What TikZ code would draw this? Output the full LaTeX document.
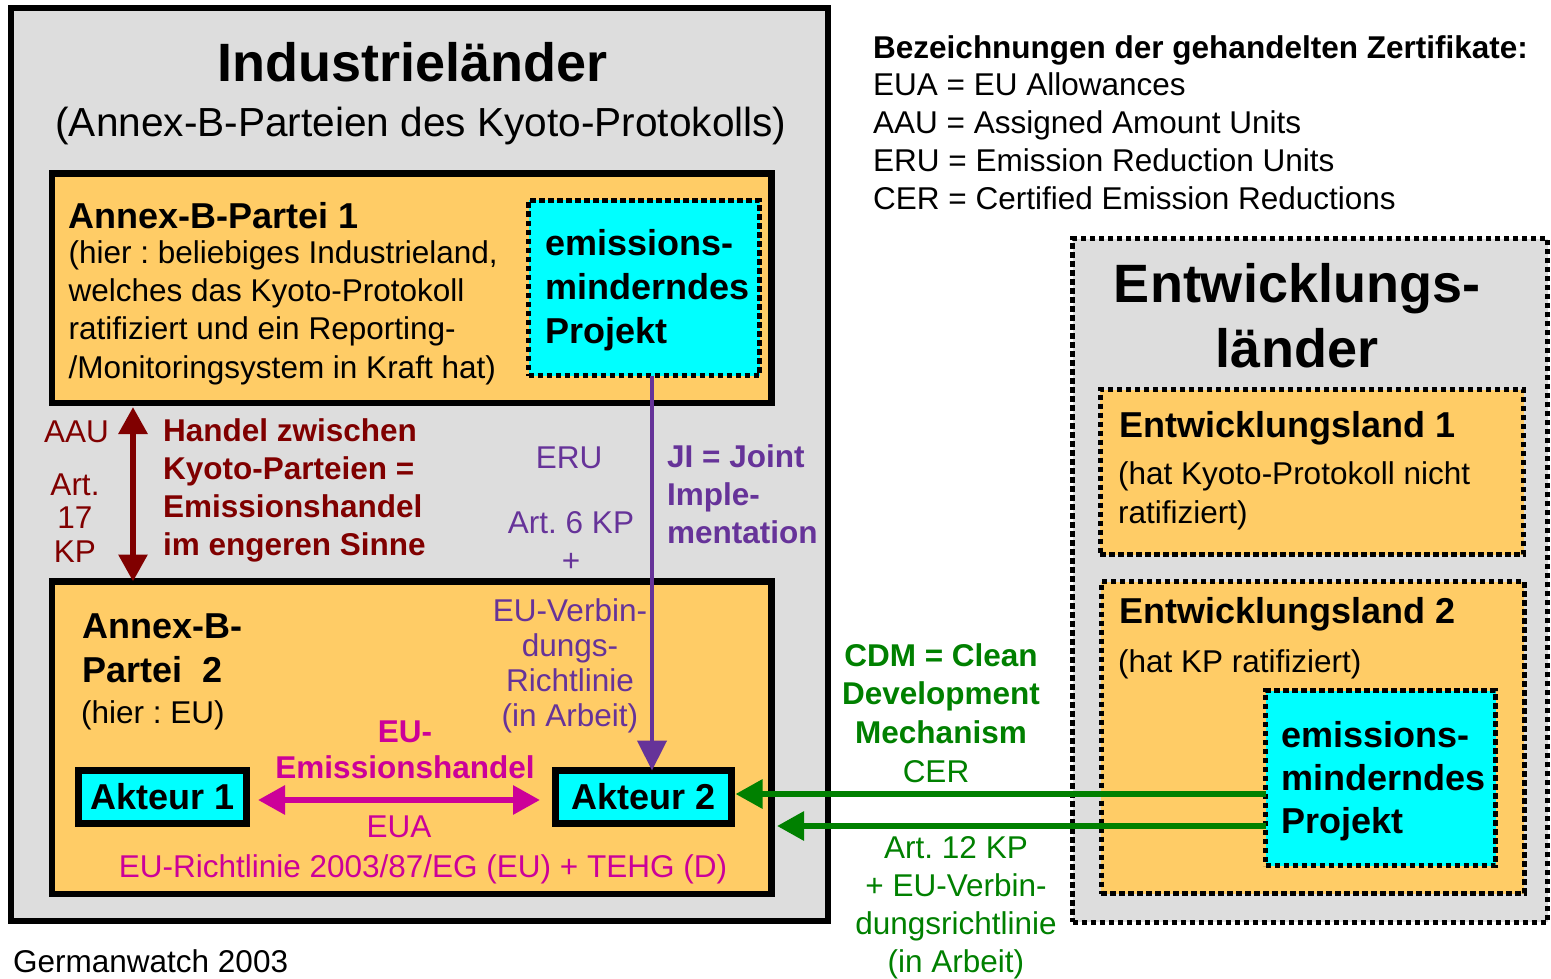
\documentclass[tikz,border=0pt]{standalone}
\usepackage{fontspec}
\setmainfont{Liberation Sans}
\usetikzlibrary{arrows.meta,fit}
\definecolor{bggray}{HTML}{DDDDDD}
\definecolor{orangefill}{HTML}{FFCC66}
\definecolor{cyanfill}{HTML}{00FFFF}
\definecolor{darkred}{HTML}{800000}
\definecolor{jipurple}{HTML}{663399}
\definecolor{eumag}{HTML}{CC0099}
\definecolor{cdmgreen}{HTML}{008000}
\begin{document}
\frenchspacing
\begin{tikzpicture}[x=1pt,y=-1pt,
  solidbox/.style={draw=black, line width=6.5pt, inner sep=0pt, outer sep=0pt},
  dotbox/.style={draw=black, line width=5pt, dash pattern=on 5.5pt off 3.5pt, inner sep=0pt, outer sep=0pt},
  txtR/.style={font=\fontsize{31.5}{#1}\selectfont, inner sep=0pt},
  txtR/.default=38,
  txtB/.style={font=\bfseries\fontsize{31.5}{#1}\selectfont, inner sep=0pt},
  txtB/.default=38,
  txtM/.style={font=\bfseries\fontsize{36}{#1}\selectfont, inner sep=0pt},
  txtM/.default=44,
  txtL/.style={font=\bfseries\fontsize{54}{#1}\selectfont, inner sep=0pt},
  txtL/.default=65,
  txtS/.style={font=\fontsize{40.6}{48}\selectfont, inner sep=0pt},
  akteur/.style={draw=black, line width=7pt, fill=cyanfill, inner sep=0pt, outer sep=0pt, font=\bfseries\fontsize{36}{43}\selectfont},
  tipA/.tip={Triangle[length=27pt,width=28pt]},
  aauarrow/.style={draw=darkred, line width=6pt, tipA-tipA, shorten <=4pt},
  jiarrow/.style={draw=jipurple, line width=4.5pt, -{Triangle[length=30pt,width=29pt]}},
  euarrow/.style={draw=eumag, line width=6pt, tipA-tipA, shorten <=11.5pt, shorten >=15.5pt},
  cdmarrow/.style={draw=cdmgreen, line width=6pt, -tipA}
]
\useasboundingbox (0,0) rectangle (1551,979);
% multi-line text nodes: the base anchor is the baseline of their LAST line

% ---------- Industrielaender ----------
\node[fit={(11,8) (828,921)}, solidbox, line width=6pt, fill=bggray] (ind) {};
\node[txtL, anchor=base] (indtitle) at (412.5,82) {Industrieländer};
\node[txtS, anchor=base] (indsub) at (421,137) {(Annex-B-Parteien des Kyoto-Protokolls)};

% Annex-B-Partei 1
\node[fit={(52,173.5) (771.5,403)}, solidbox, fill=orangefill] (ab1) {};
\node[txtM, anchor=base west] (ab1title) at (68.5,228) {Annex-B-Partei 1};
\node[txtR=38.3, anchor=base west, align=left] (ab1text) at (68.5,378)
  {(hier : beliebiges Industrieland,\\welches das Kyoto-Protokoll\\ratifiziert und ein Reporting-\\/Monitoringsystem in Kraft hat)};
\node[fit={(528.5,200.5) (759.5,375.5)}, dotbox, fill=cyanfill] (proj1) {};
\node[txtM=44, anchor=base west, align=left] (proj1text) at (545,343) {emissions-\\minderndes\\Projekt};

% Annex-B-Partei 2
\node[fit={(52,581.5) (771.5,894)}, solidbox, fill=orangefill] (ab2) {};
\node[txtM=44, anchor=base west, align=left] (ab2title) at (82,682) {Annex-B-\\Partei\ \ 2};
\node[txtR, anchor=base west] (ab2text) at (81,723) {(hier : EU)};
\node[akteur, minimum width=168pt, minimum height=53pt] (akt1) at (162.5,797) {Akteur 1};
\node[akteur, minimum width=176pt, minimum height=53pt] (akt2) at (643.5,797) {Akteur 2};

% ---------- Legend ----------
\node[txtB, anchor=base west] (legtitle) at (873,59) {Bezeichnungen der gehandelten Zertifikate:};
\node[txtR=38.2, anchor=base west, align=left] (legtext) at (873,210)
  {EUA = EU Allowances\\AAU = Assigned Amount Units\\ERU = Emission Reduction Units\\CER = Certified Emission Reductions};

% ---------- Entwicklungslaender ----------
\node[fit={(1072.5,238.5) (1547.5,922)}, dotbox, fill=bggray] (entw) {};
\node[txtL=65, anchor=base, align=center] (entwtitle) at (1297,367) {Entwicklungs-\\länder};
\node[fit={(1100,389.5) (1523.5,554.5)}, dotbox, fill=orangefill] (el1) {};
\node[txtM, anchor=base west] (el1title) at (1119,437) {Entwicklungsland 1};
\node[txtR=39, anchor=base west, align=left] (el1text) at (1118,523) {(hat Kyoto-Protokoll nicht\\ratifiziert)};
\node[fit={(1101,581.5) (1524,893.5)}, dotbox, fill=orangefill] (el2) {};
\node[txtM, anchor=base west] (el2title) at (1119,623) {Entwicklungsland 2};
\node[txtR, anchor=base west] (el2text) at (1118,672) {(hat KP ratifiziert)};

% ---------- Connectors ----------
\coordinate (aaux) at (133,0);
\draw[aauarrow] (ab1.south -| aaux) -- (ab2.north -| aaux);
\node[txtR, text=darkred, anchor=base west] (aaulab) at (44,442) {AAU};
\node[txtR=33.5, text=darkred, anchor=base, align=center] (art17) at (75,562) {Art.\\17\\KP};
\node[txtB=37.7, text=darkred, anchor=base west, align=left] (handel) at (163,555)
  {Handel zwischen\\Kyoto-Parteien =\\Emissionshandel\\im engeren Sinne};

\coordinate (jix) at (652,0);
\draw[jiarrow] (proj1.south -| jix) -- (akt2.north -| jix);
\node[txtR, text=jipurple, anchor=base] (erulab) at (569,468) {ERU};
\node[txtR=38, text=jipurple, anchor=base, align=center] (art6) at (571,571) {Art. 6 KP\\+};
\node[txtR=34.7, text=jipurple, anchor=base, align=center] (euverb) at (570,726) {EU-Verbin-\\dungs-\\Richtlinie\\(in Arbeit)};
\node[txtB=38, text=jipurple, anchor=base west, align=left] (jilab) at (667,543) {JI = Joint\\Imple-\\mentation};

\draw[euarrow] ([yshift=-3pt]akt1.east) -- ([yshift=-3pt]akt2.west);
\node[txtB=36, text=eumag, anchor=base, align=center] (euhandel) at (405,778) {EU-\\Emissionshandel};
\node[txtR, text=eumag, anchor=base] (eualab) at (399,837) {EUA};
\node[txtR, text=eumag, anchor=base] (eurl) at (423,877) {EU-Richtlinie 2003/87/EG (EU) + TEHG (D)};

\node[fit={(1265.5,690.5) (1495.5,865.5)}, dotbox, fill=cyanfill] (proj2) {};
\node[txtM=43, anchor=base west, align=left] (proj2text) at (1281,833) {emissions-\\minderndes\\Projekt};
\coordinate (g1) at (0,794);
\coordinate (g2) at (0,826);
\draw[cdmarrow, shorten >=4pt] (proj2.west |- g1) -- (akt2.east |- g1);
\draw[cdmarrow, shorten >=5.5pt] (proj2.west |- g2) -- (ab2.east |- g2);
\node[txtB=38.5, text=cdmgreen, anchor=base, align=center] (cdmlab) at (941,743) {CDM = Clean\\Development\\Mechanism};
\node[txtR, text=cdmgreen, anchor=base] (cerlab) at (936,782) {CER};
\node[txtR=38, text=cdmgreen, anchor=base, align=center] (art12) at (956,972) {Art. 12 KP\\+ EU-Verbin-\\dungsrichtlinie\\(in Arbeit)};

% ---------- Source ----------
\node[txtR, anchor=base west] (source) at (13,972) {Germanwatch 2003};
\end{tikzpicture}
\end{document}
